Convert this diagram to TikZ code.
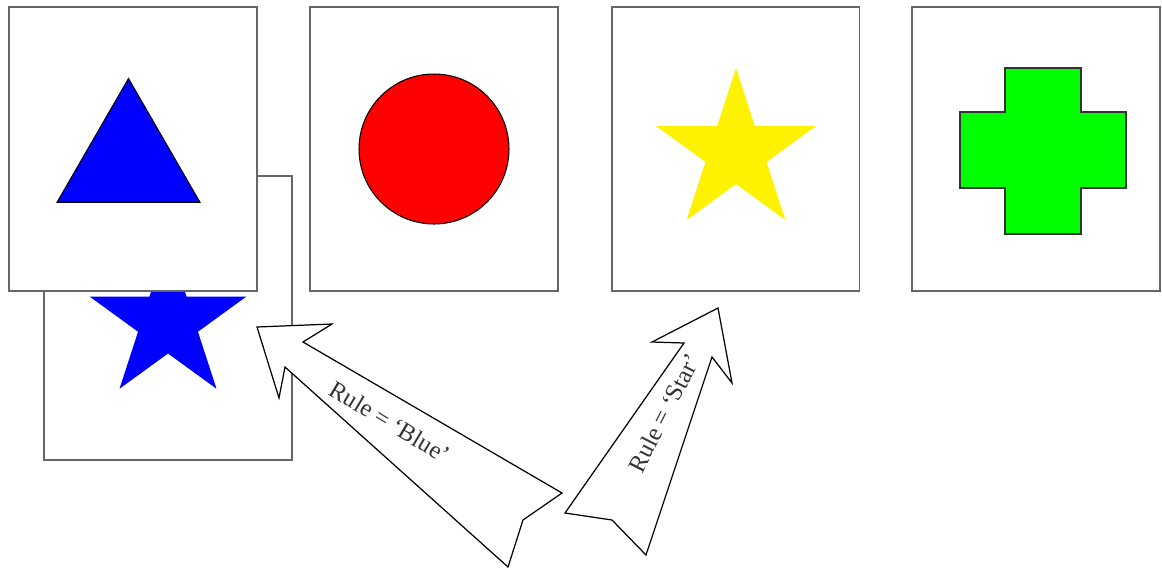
\documentclass[tikz,border=0pt]{standalone}
\usepackage{fontspec}
\setmainfont{Liberation Serif}
\usetikzlibrary{shapes.geometric}
\tikzset{
	card/.style={draw=gray!80!black, line width=1.1pt, fill=white, minimum width=4.96cm, minimum height=5.68cm, inner sep=0pt},
	bigarrow/.style={draw=black, line width=0.7pt, fill=white, line join=miter},
	rulelabel/.style={font=\fontsize{14}{16}\selectfont, text=black!80, inner sep=0pt},
	fivestar/.style={star, star points=5, star point ratio=2.618, inner sep=0pt, minimum size=#1},
}
\begin{document}
\begin{tikzpicture}[x=0.02cm,y=-0.02cm]
			\useasboundingbox (0,0) rectangle (1162,569);
			% card lying underneath
			\node[card] (bluecard) at (168,318) {};
			\node[fivestar=3.3cm, fill=blue] (bluestar) at (168,322) {};
			\foreach \x/\n in {133/tricard,434/circcard,735.5/starcard,1036/crosscard}{
				\node[card] (\n) at (\x,149) {};}
			\node[regular polygon, regular polygon sides=3, minimum size=3.3cm, inner sep=0pt, draw=black, line width=0.6pt, fill=blue] (tri) at (128.5,161) {};
			\node[circle, minimum size=3cm, inner sep=0pt, draw=black, line width=0.6pt, fill=red] (circ) at (circcard.center) {};
			\node[fivestar=3.36cm, fill=yellow] (ystar) at (736,152) {};
			\draw[draw=black!80, line width=0.6pt, fill=green] (1005,68) -- (1081,68) -- (1081,112) -- (1126,112) -- (1126,188) -- (1081,188) -- (1081,234) -- (1005,234) -- (1005,188) -- (960,188) -- (960,112) -- (1005,112) -- cycle;%croix
			
			\draw[bigarrow] (257,327) -- (332,324) -- (303,342) -- (562,493) -- (523,520) -- (508,567) -- (285,367) -- (279,398) -- cycle;
			\draw[bigarrow] (718,308) -- (732,383) -- (712,357) -- (646,555) -- (612,520) -- (565,513) -- (684,343) -- (652,342) -- cycle;
			
			\node[rulelabel, rotate=-31] (bluerule) at (390,422) {Rule = ‘Blue’};
			\node[rulelabel, rotate=63] (starrule) at (664,413) {Rule = ‘Star’};
		\end{tikzpicture}
\end{document}
